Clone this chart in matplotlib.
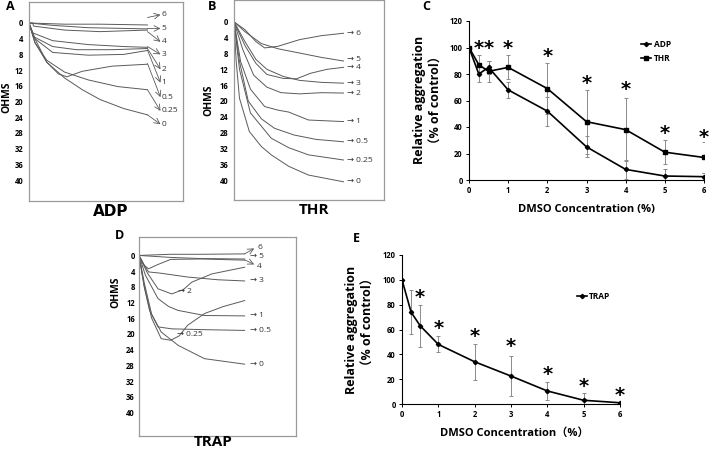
import numpy as np
import matplotlib.pyplot as plt

plt.rcParams['font.family'] = ['Open Sans', 'DejaVu Sans', 'Noto Sans CJK SC']

# ---------------- data ----------------
# C: relative aggregation (% of control)
dmso = [0, 0.25, 0.5, 1, 2, 3, 4, 5, 6]
adp_mean = [100, 80, 85, 68, 52, 25, 8, 3, 2.5]
adp_err = [0, 6, 5, 6, 11, 8, 7, 5, 3]
thr_mean = [100, 87, 82, 85, 69, 44, 38, 21, 17]
thr_err = [0, 7, 8, 9, 19, 24, 24, 9, 12]
c_star_x = [0.25, 0.5, 1, 2, 3, 4, 5, 6]
c_star_y = [99, 99, 99, 93, 73, 68, 35, 32]

# E: TRAP
trap_mean = [100, 74, 63, 48, 34, 22.5, 10.5, 3, 1]
trap_err = [0, 18, 17, 6.5, 14.5, 16, 7.5, 5.5, 0]
e_star_x = [0.5, 1, 2, 3, 4, 5, 6]
e_star_y = [86, 61, 54, 46.5, 24, 13.8, 6.5]

ohm_ticks = [0, 4, 8, 12, 16, 20, 24, 28, 32, 36, 40]

# aggregometer traces: (time fraction, ohms)
adp_traces = [
    ([0, 0.3, 0.6, 1.0], [0, 0.3, 0.3, 0.5]),
    ([0, 0.2, 0.5, 1.0], [0, 0.6, 1.2, 1.5]),
    ([0, 0.03, 0.04, 0.3, 0.6, 1.0], [0, 0, 0.8, 1.8, 2.2, 1.8]),
    ([0, 0.03, 0.2, 0.5, 0.8, 1.0], [0, 2.5, 4.5, 5.5, 6.0, 6.2]),
    ([0, 0.04, 0.2, 0.4, 0.7, 1.0], [0, 3.5, 6.0, 6.8, 6.8, 6.5]),
    ([0, 0.05, 0.2, 0.5, 0.8, 1.0], [0, 4.0, 7.5, 8.2, 8.0, 7.0]),
    ([0, 0.05, 0.15, 0.25, 0.32, 0.45, 0.7, 1.0], [0, 4, 10, 13, 13.7, 12.3, 11, 10.5]),
    ([0, 0.05, 0.15, 0.3, 0.5, 0.75, 1.0], [0, 5, 9.5, 12.5, 14.5, 16.2, 17]),
    ([0, 0.05, 0.15, 0.3, 0.45, 0.6, 0.8, 1.0], [0, 5, 10, 14, 17, 19.5, 21.8, 23.4]),
]
adp_labels = ['6', '5', '4', '3', '2', '1', '0.5', '0.25', '0']
adp_label_y = [-2.1, 1.4, 4.8, 8.0, 11.8, 15.2, 18.9, 22.4, 25.8]
adp_arrow_from = [-1.4, 1.4, 2.2, 6.0, 6.5, 6.9, 10.3, 17.0, 23.4]

thr_traces = [
    ([0, 0.1, 0.2, 0.28, 0.4, 0.6, 0.8, 1.0], [0, 2, 5, 6.6, 6.2, 4.5, 3.5, 2.9]),
    ([0, 0.1, 0.25, 0.4, 0.6, 0.8, 1.0], [0, 2.5, 5.5, 6.8, 7.9, 9.0, 9.9]),
    ([0, 0.1, 0.2, 0.3, 0.45, 0.57, 0.7, 0.85, 1.0], [0, 6, 10.5, 13.3, 14.3, 14.4, 13, 12, 11.5]),
    ([0, 0.1, 0.2, 0.3, 0.45, 0.6, 0.8, 1.0], [0, 5, 9.5, 12, 13.8, 14.8, 15.3, 15.5]),
    ([0, 0.08, 0.18, 0.3, 0.43, 0.6, 0.8, 1.0], [0, 7, 13.5, 16.5, 17.9, 18.2, 17.9, 18]),
    ([0, 0.06, 0.15, 0.28, 0.4, 0.5, 0.68, 1.0], [0, 10, 17, 21.4, 22.3, 22.8, 24.8, 25.2]),
    ([0, 0.05, 0.13, 0.25, 0.37, 0.55, 0.75, 1.0], [0, 10, 20, 24.5, 26.9, 28.6, 29.7, 30.3]),
    ([0, 0.05, 0.15, 0.34, 0.5, 0.68, 1.0], [0, 12, 23, 29.4, 31.8, 33.6, 34.9]),
    ([0, 0.02, 0.05, 0.14, 0.25, 0.34, 0.5, 0.68, 1.0], [0, 10, 19.3, 27.7, 31.5, 33.6, 36.5, 38.7, 40.4]),
]
thr_labels = ['6', '5', '4', '3', '2', '1', '0.5', '0.25', '0']
thr_label_y = [2.9, 9.6, 11.6, 15.5, 18.0, 25.2, 30.3, 34.9, 40.4]

trap_traces = [
    ([0, 0.3, 0.6, 1.0], [0, -0.3, -0.3, -0.4]),
    ([0, 0.05, 0.09, 0.18, 0.3, 0.6, 1.0], [0, 2.5, 3.4, 2.3, 1.0, 0.9, 1.2]),
    ([0, 0.3, 0.6, 1.0], [0, 0.5, 0.8, 0.9]),
    ([0, 0.05, 0.09, 0.2, 0.46, 0.75, 1.0], [0, 2.5, 4.2, 4.5, 5.5, 6.2, 6.5]),
    ([0, 0.08, 0.18, 0.31, 0.42, 0.5, 0.69, 1.0], [0, 4.5, 8.5, 9.8, 8.7, 6.8, 4.7, 3.0]),
    ([0, 0.06, 0.18, 0.28, 0.37, 0.62, 1.0], [0, 5, 11, 13, 14, 15.3, 15.4]),
    ([0, 0.05, 0.1, 0.18, 0.31, 0.6, 1.0], [0, 8, 14, 18.2, 18.7, 18.9, 19.1]),
    ([0, 0.05, 0.12, 0.21, 0.3, 0.38, 0.46, 0.62, 0.8, 1.0], [0, 8, 16, 21.2, 21.6, 20.5, 17.8, 14.8, 13, 11.5]),
    ([0, 0.05, 0.12, 0.21, 0.37, 0.62, 1.0], [0, 7, 15, 19.5, 22.9, 26.3, 27.7]),
]
trap_right_labels = ['5', '3', '1', '0.5', '0']
trap_right_y = [0.25, 6.4, 15.3, 19.1, 27.8]

W, H = 709, 451
fig = plt.figure(figsize=(W / 100, H / 100), dpi=100)


def px_axes(x0, y0, x1, y1):
    # axes from pixel box (top-left origin)
    return fig.add_axes([x0 / W, 1 - y1 / H, (x1 - x0) / W, (y1 - y0) / H])


def ftext(x, y, s, **kw):
    fig.text(x / W, 1 - y / H, s, **kw)


trace_col = '#5a5a5a'
lab_col = '#333333'


def trace_box(ax, traces, xmax, ymin, ymax):
    for tx, ty in traces:
        ax.plot(tx, ty, color=trace_col, lw=0.7)
    ax.set_xlim(0, xmax)
    ax.set_ylim(ymax, ymin)
    ax.set_xticks([])
    ax.set_yticks(ohm_ticks)
    ax.set_yticklabels([str(t) for t in ohm_ticks], fontsize=5.5, fontweight='bold')
    ax.tick_params(axis='y', length=0, pad=4)
    for s in ax.spines.values():
        s.set_color('#9a9a9a')
        s.set_linewidth(0.9)


def diag_arrow(ax, x0, y0, x1, y1):
    ax.annotate('', xy=(x1, y1), xytext=(x0, y0),
                arrowprops=dict(arrowstyle='->', color=trace_col, lw=0.6,
                                shrinkA=0, shrinkB=0))


# ---------------- A: ADP ----------------
axA = px_axes(29, 2, 183, 201)
trace_box(axA, adp_traces, 1.3, -5.35, 45.35)
for lab, ly, fy in zip(adp_labels, adp_label_y, adp_arrow_from):
    diag_arrow(axA, 1.0, fy, 1.11, ly)
    axA.text(1.12, ly, lab, fontsize=6, va='center', ha='left', color=lab_col)
ftext(111, 212, 'ADP', fontsize=11, fontweight='bold', ha='center', va='center',
      family='DejaVu Sans')
ftext(7, 97, 'OHMS', fontsize=7.5, fontweight='bold', rotation=90, ha='center', va='center')
ftext(10, 7, 'A', fontsize=9, fontweight='bold', ha='center', va='center')

# ---------------- B: THR ----------------
axB = px_axes(234, 0, 384, 200)
trace_box(axB, thr_traces, 1.37, -5.5, 45.0)
for lab, ly in zip(thr_labels, thr_label_y):
    axB.text(1.03, ly, '\u2192 ' + lab, fontsize=6, va='center', ha='left', color=lab_col)
ftext(314, 210, 'THR', fontsize=11, fontweight='bold', ha='center', va='center')
ftext(209, 100, 'OHMS', fontsize=7.5, fontweight='bold', rotation=90, ha='center', va='center')
ftext(212, 7, 'B', fontsize=9, fontweight='bold', ha='center', va='center')

# ---------------- D: TRAP ----------------
axD = px_axes(139, 237, 296, 436)
trace_box(axD, trap_traces, 1.486, -4.7, 46.0)
axD.tick_params(axis='y', pad=3)
for lab, ly in zip(trap_right_labels, trap_right_y):
    axD.text(1.05, ly, '\u2192 ' + lab, fontsize=6, va='center', ha='left', color=lab_col)
diag_arrow(axD, 1.0, -0.4, 1.09, -1.8)
axD.text(1.12, -2.0, '6', fontsize=6, va='center', ha='left', color=lab_col)
diag_arrow(axD, 1.0, 1.1, 1.09, 2.3)
axD.text(1.12, 2.7, '4', fontsize=6, va='center', ha='left', color=lab_col)
axD.text(0.37, 9.1, '\u2192 2', fontsize=6, va='center', ha='left', color=lab_col)
axD.text(0.36, 20.2, '\u2192 0.25', fontsize=6, va='center', ha='left', color=lab_col)
ftext(213, 442, 'TRAP', fontsize=11, fontweight='bold', ha='center', va='center')
ftext(116, 292, 'OHMS', fontsize=7.5, fontweight='bold', rotation=90, ha='center', va='center')
ftext(120, 235, 'D', fontsize=9, fontweight='bold', ha='center', va='center')


# ---------------- C and E: line charts ----------------
def style_line_ax(ax):
    ax.set_xlim(0, 6)
    ax.set_ylim(0, 120)
    ax.set_xticks(range(7))
    ax.set_yticks(range(0, 121, 20))
    for s in ['top', 'right']:
        ax.spines[s].set_visible(False)
    for s in ['left', 'bottom']:
        ax.spines[s].set_linewidth(0.8)
    ax.tick_params(length=2.5, width=0.7, labelsize=5.5, pad=2)
    for t in ax.get_xticklabels() + ax.get_yticklabels():
        t.set_fontweight('bold')


err_kw = dict(ecolor='#8a8a8a', elinewidth=0.7, capsize=1.5, capthick=0.7)
star_kw = dict(fontsize=14, fontweight='bold', ha='center', va='center', clip_on=False,
               family='DejaVu Sans')
ylab_kw = dict(fontsize=9, fontweight='bold', rotation=90, ha='center', va='center')

axC = px_axes(469, 21, 704, 180)
axC.errorbar(dmso, adp_mean, yerr=adp_err, fmt='none', **err_kw)
axC.errorbar(dmso, thr_mean, yerr=thr_err, fmt='none', **err_kw)
axC.plot(dmso, adp_mean, color='black', lw=1.2, marker='D', ms=2.2, label='ADP')
axC.plot(dmso, thr_mean, color='black', lw=1.2, marker='s', ms=3.2, label='THR')
for sx, sy in zip(c_star_x, c_star_y):
    axC.text(sx, sy, '*', **star_kw)
style_line_ax(axC)
axC.legend(loc='upper left', bbox_to_anchor=(0.7, 0.93), frameon=False,
           prop=dict(size=6, weight='bold'), handlelength=1.2, handletextpad=0.4,
           labelspacing=0.6)
ftext(586, 210, 'DMSO Concentration (%)', fontsize=8, fontweight='bold', ha='center', va='center')
ftext(419, 100, 'Relative aggregation', **ylab_kw)
ftext(436, 100, '\uff08% of control\uff09', **ylab_kw)
ftext(426, 7, 'C', fontsize=9, fontweight='bold', ha='center', va='center')

axE = px_axes(402, 255, 620, 404)
axE.errorbar(dmso, trap_mean, yerr=trap_err, fmt='none', **err_kw)
axE.plot(dmso, trap_mean, color='black', lw=1.2, marker='D', ms=2.2, label='TRAP')
for sx, sy in zip(e_star_x, e_star_y):
    axE.text(sx, sy, '*', **star_kw)
style_line_ax(axE)
axE.legend(loc='upper left', bbox_to_anchor=(0.77, 0.8), frameon=False,
           prop=dict(size=6, weight='bold'), handlelength=1.2, handletextpad=0.2)
ftext(514, 433, 'DMSO Concentration\uff08%\uff09', fontsize=8, fontweight='bold', ha='center',
      va='center')
ftext(351, 330, 'Relative aggregation', **ylab_kw)
ftext(368, 322, '\uff08% of control\uff09', **ylab_kw)
ftext(356, 238, 'E', fontsize=9, fontweight='bold', ha='center', va='center')

fig.savefig('out.png', dpi=100)
